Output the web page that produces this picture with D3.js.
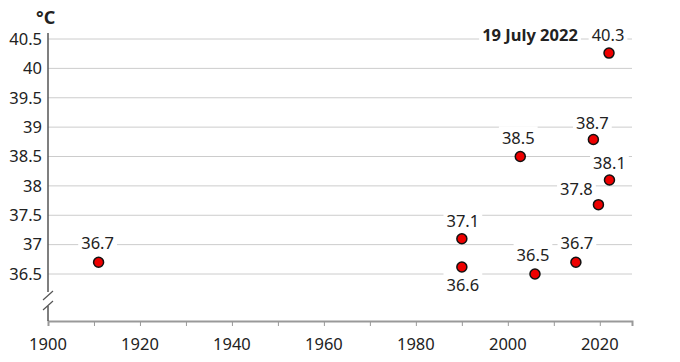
<!DOCTYPE html>
<html>
<head>
<meta charset="utf-8">
<script src="https://cdn.jsdelivr.net/npm/d3@7"></script>
<style>
  body { margin: 0; background: #fff; }
  svg text { font-family: "Noto Sans", "Open Sans", sans-serif; }
</style>
</head>
<body>
<div class="chart"></div>
<script>
// Record UK temperatures (year of record, plotted value, label)
const years = [1911, 1990, 1990, 2002.7, 2005.9, 2014.8, 2018.6, 2019.7, 2022.1, 2022];
const temps = [36.7, 37.1, 36.62, 38.5, 36.5, 36.7, 38.79, 37.68, 38.1, 40.26];
const labels = ["36.7", "37.1", "36.6", "38.5", "36.5", "36.7", "38.7", "37.8", "38.1", "40.3"];
const yTicks = [36.5, 37, 37.5, 38, 38.5, 39, 39.5, 40, 40.5];
const xTicks = [1900, 1920, 1940, 1960, 1980, 2000, 2020];

const width = 680, height = 362;
const fontSize = "16.5px";
const svg = d3.select(".chart").append("svg")
    .attr("width", width)
    .attr("height", height);

const x = d3.scaleLinear().domain([1900, 2027]).range([48, 632]);
const y = d3.scaleLinear().domain([35.7, 40.5]).range([321, 39]);

// gridlines
svg.append("g")
    .selectAll("line")
    .data(yTicks)
    .join("line")
    .attr("x1", x(1900))
    .attr("x2", x(2027))
    .attr("y1", d => y(d))
    .attr("y2", d => y(d))
    .attr("stroke", "#cccccc")
    .attr("stroke-width", 1);

// y tick labels
svg.append("g")
    .selectAll("text")
    .data(yTicks)
    .join("text")
    .attr("x", 42)
    .attr("y", d => y(d))
    .attr("dy", "0.35em")
    .attr("text-anchor", "end")
    .style("font-size", fontSize)
    .attr("fill", "#222")
    .text(d => d);

// unit
svg.append("text")
    .attr("x", 36)
    .attr("y", 24)
    .style("font-size", "18px")
    .style("font-weight", "bold")
    .attr("fill", "#222")
    .text("°C");

// x axis
const xAxis = svg.append("g")
    .attr("transform", `translate(0,${y(35.7)})`)
    .call(d3.axisBottom(x).tickValues(d3.range(1900, 2021, 10)).tickSize(5).tickFormat(""));
xAxis.select(".domain").attr("stroke", "#999").attr("stroke-width", 2);
xAxis.selectAll(".tick line").attr("stroke", "#999");

svg.append("g")
    .selectAll("text")
    .data(xTicks)
    .join("text")
    .attr("x", d => x(d))
    .attr("y", 350)
    .attr("text-anchor", "middle")
    .style("font-size", fontSize)
    .attr("fill", "#222")
    .text(d => d);

// vertical axis with break
const ax = x(1900);
svg.append("line")
    .attr("x1", ax).attr("x2", ax)
    .attr("y1", 33).attr("y2", 292)
    .attr("stroke", "#555").attr("stroke-width", 1.5);
svg.append("line")
    .attr("x1", ax).attr("x2", ax)
    .attr("y1", 306).attr("y2", y(35.7))
    .attr("stroke", "#555").attr("stroke-width", 1.5);
[0, 10].forEach(off => {
    svg.append("line")
        .attr("x1", ax - 5).attr("y1", 300 + off)
        .attr("x2", ax + 5).attr("y2", 291 + off)
        .attr("stroke", "#555").attr("stroke-width", 1.2);
});

// label offsets relative to point (dx, dy of text centre)
const labelOffset = [
    [-1, -19], [1, -18], [1, 18], [-2, -18], [-2, -19],
    [1, -19], [-1, -16], [-22, -15], [0, -17], [-1, -18]
];

const pts = d3.range(years.length).map(i => ({
    x: x(years[i]), y: y(temps[i]), label: labels[i],
    lx: x(years[i]) + labelOffset[i][0], ly: y(temps[i]) + labelOffset[i][1]
}));

const labelG = svg.append("g");
const annot = pts.map(p => ({ text: p.label, x: p.lx, y: p.ly, bold: false }));
annot.push({ text: "19 July 2022", x: pts[9].lx - 78, y: pts[9].ly, bold: true });

annot.forEach(a => {
    const g = labelG.append("g");
    const t = g.append("text")
        .attr("x", a.x)
        .attr("y", a.y)
        .attr("dy", "0.35em")
        .attr("text-anchor", "middle")
        .style("font-size", fontSize)
        .style("font-weight", a.bold ? "bold" : "normal")
        .attr("fill", "#222")
        .text(a.text);
    const b = t.node().getBBox();
    g.insert("rect", "text")
        .attr("x", b.x - 3)
        .attr("y", b.y)
        .attr("width", b.width + 6)
        .attr("height", b.height)
        .attr("fill", "#fff");
});

// points
svg.append("g")
    .selectAll("circle")
    .data(pts)
    .join("circle")
    .attr("cx", d => d.x)
    .attr("cy", d => d.y)
    .attr("r", 5)
    .attr("fill", "#ee0000")
    .attr("stroke", "#111")
    .attr("stroke-width", 1.5);
</script>
</body>
</html>
